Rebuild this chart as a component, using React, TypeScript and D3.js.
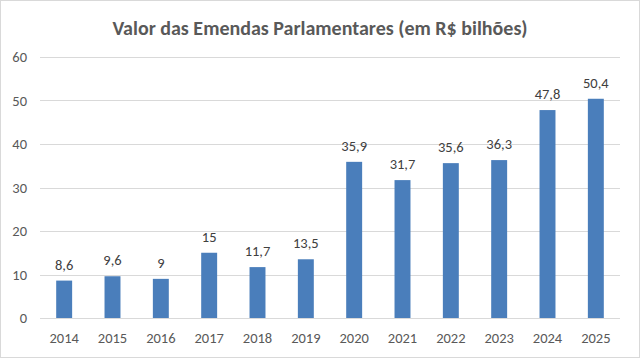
import React, { useEffect, useRef } from "react";
import * as d3 from "d3";

// values
const years = ["2014", "2015", "2016", "2017", "2018", "2019", "2020", "2021", "2022", "2023", "2024", "2025"];
const values = [8.6, 9.6, 9, 15, 11.7, 13.5, 35.9, 31.7, 35.6, 36.3, 47.8, 50.4];
const yTicks = [0, 10, 20, 30, 40, 50, 60];
const title = "Valor das Emendas Parlamentares (em R$ bilhões)";

const W = 640;
const H = 358;

export default function App() {
  const ref = useRef<SVGSVGElement | null>(null);

  useEffect(() => {
    const svg = d3.select(ref.current);
    svg.selectAll("*").remove();

    const margin = { top: 57, right: 20, bottom: 40, left: 40 };
    const width = W - margin.left - margin.right;
    const height = H - margin.top - margin.bottom;
    const font = "Carlito, 'Open Sans', 'Liberation Sans', sans-serif";

    // outer chart border
    svg.append("rect")
      .attr("x", 0.5).attr("y", 0.5)
      .attr("width", W - 1).attr("height", H - 1)
      .attr("fill", "#fff")
      .attr("stroke", "#d9d9d9");

    svg.append("text")
      .attr("x", W / 2)
      .attr("y", 35)
      .attr("text-anchor", "middle")
      .style("font-family", font)
      .style("font-size", "20px")
      .style("font-weight", "bold")
      .attr("fill", "#595959")
      .text(title);

    const g = svg.append("g")
      .attr("transform", "translate(" + margin.left + "," + margin.top + ")");

    const x = d3.scaleBand()
      .domain(years)
      .range([0, width])
      .paddingInner(0.67)
      .paddingOuter(0.335);

    const y = d3.scaleLinear()
      .domain([0, 60])
      .range([height, 0]);

    // gridlines
    g.selectAll("line.grid")
      .data(yTicks)
      .enter()
      .append("line")
      .attr("x1", 0)
      .attr("x2", width)
      .attr("y1", d => Math.round(y(d)) + 0.5)
      .attr("y2", d => Math.round(y(d)) + 0.5)
      .attr("stroke", "#d9d9d9")
      .attr("stroke-width", 1);

    // y tick labels
    g.selectAll("text.ytick")
      .data(yTicks)
      .enter()
      .append("text")
      .attr("x", -13)
      .attr("y", d => y(d) + 5)
      .attr("text-anchor", "end")
      .style("font-family", font)
      .style("font-size", "14.5px")
      .attr("fill", "#595959")
      .text(d => String(d));

    // bars
    g.selectAll("rect.bar")
      .data(values)
      .enter()
      .append("rect")
      .attr("x", (d, i) => x(years[i]) as number)
      .attr("y", d => y(d))
      .attr("width", x.bandwidth())
      .attr("height", d => height - y(d))
      .attr("fill", "#4a7ebb");

    // value labels
    g.selectAll("text.val")
      .data(values)
      .enter()
      .append("text")
      .attr("x", (d, i) => (x(years[i]) as number) + x.bandwidth() / 2)
      .attr("y", d => y(d) - 11)
      .attr("text-anchor", "middle")
      .style("font-family", font)
      .style("font-size", "14.5px")
      .attr("fill", "#404040")
      .text(d => String(d).replace(".", ","));

    // x labels
    g.selectAll("text.xtick")
      .data(years)
      .enter()
      .append("text")
      .attr("x", d => (x(d) as number) + x.bandwidth() / 2)
      .attr("y", height + 25)
      .attr("text-anchor", "middle")
      .style("font-family", font)
      .style("font-size", "14.5px")
      .attr("fill", "#595959")
      .text(d => d);
  }, []);

  return (
    <svg
      ref={ref}
      width={W}
      height={H}
      style={{ position: "absolute", left: 0, top: 0, display: "block" }}
    ></svg>
  );
}
